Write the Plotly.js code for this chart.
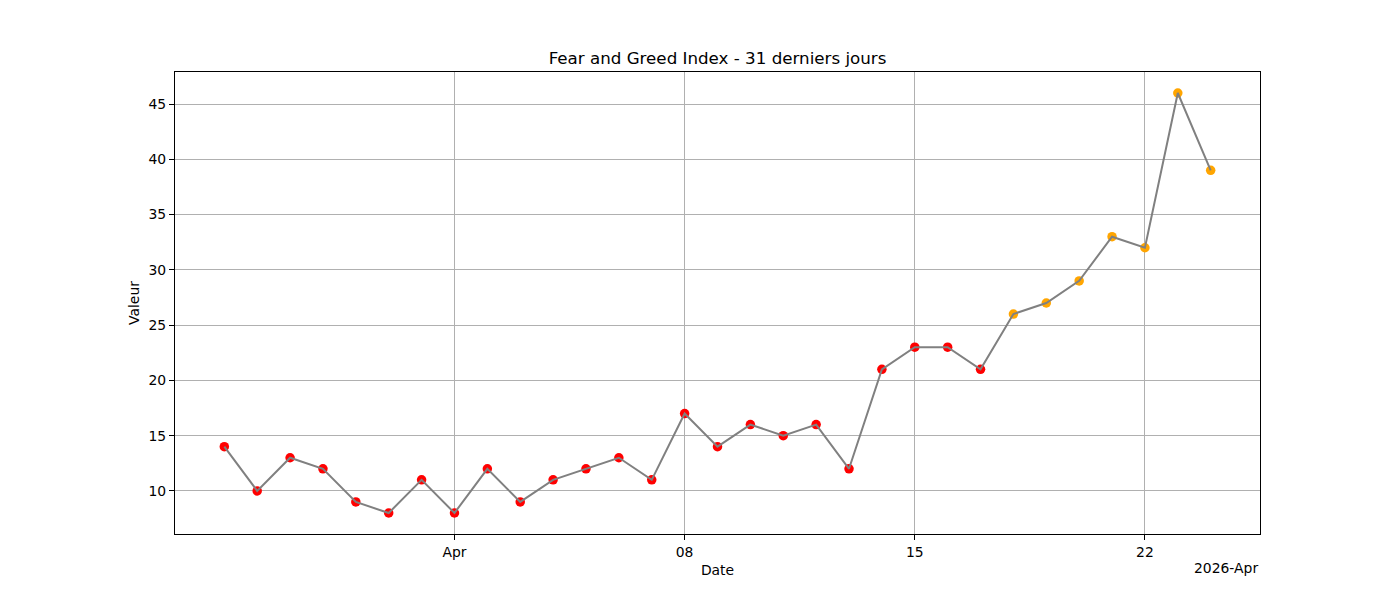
<!DOCTYPE html>
<html>
<head>
<meta charset="utf-8">
<script src="https://cdn.plot.ly/plotly-3.0.1.min.js"></script>
<style>
  body { margin: 0; background: white; }
  #chart { width: 1400px; height: 600px; }
</style>
</head>
<body>
<div id="chart"></div>
<script>
// 31 days of index values, Mar 25 -> Apr 24 2026
var dates = ['2026-03-25','2026-03-26','2026-03-27','2026-03-28','2026-03-29','2026-03-30','2026-03-31',
  '2026-04-01','2026-04-02','2026-04-03','2026-04-04','2026-04-05','2026-04-06','2026-04-07',
  '2026-04-08','2026-04-09','2026-04-10','2026-04-11','2026-04-12','2026-04-13','2026-04-14',
  '2026-04-15','2026-04-16','2026-04-17','2026-04-18','2026-04-19','2026-04-20','2026-04-21',
  '2026-04-22','2026-04-23','2026-04-24'];
var values = [14, 10, 13, 12, 9, 8, 11, 8, 12, 9, 11, 12, 13, 11, 17, 14, 16, 15, 16, 12, 21,
  23, 23, 21, 26, 27, 29, 33, 32, 46, 39];
var tickDates = ['2026-04-01', '2026-04-08', '2026-04-15', '2026-04-22'];
var tickLabels = ['Apr', '08', '15', '22'];

// extreme fear in red, fear in orange
var pointColors = values.map(function (v) { return v < 25 ? 'red' : 'orange'; });

var pts = {
  x: dates, y: values,
  type: 'scatter', mode: 'markers',
  marker: { color: pointColors, size: 9.5, line: { width: 0 } },
  hoverinfo: 'x+y'
};
var line = {
  x: dates, y: values,
  type: 'scatter', mode: 'lines',
  line: { color: 'gray', width: 2 },
  hoverinfo: 'skip'
};

var font = { family: 'DejaVu Sans, sans-serif', color: 'black', size: 13.9 };

var layout = {
  width: 1400, height: 600,
  margin: { l: 175, r: 140, t: 72, b: 66 },
  paper_bgcolor: 'white', plot_bgcolor: 'white',
  showlegend: false,
  font: font,
  title: { text: 'Fear and Greed Index - 31 derniers jours', font: { size: 16.7, color: 'black' },
           x: 0.5, xref: 'paper', y: 1, yref: 'paper', yanchor: 'bottom', pad: { b: 8 } },
  xaxis: {
    type: 'date',
    range: ['2026-03-23 12:00', '2026-04-25 12:00'],
    tickmode: 'array', tickvals: tickDates, ticktext: tickLabels,
    ticks: 'outside', ticklen: 5, tickwidth: 1, tickcolor: 'black',
    showgrid: true, gridcolor: '#b0b0b0', gridwidth: 1.1,
    showline: true, linecolor: 'black', linewidth: 1.1, mirror: true,
    zeroline: false,
    title: { text: 'Date', font: font, standoff: 6 }
  },
  yaxis: {
    range: [6.1, 47.9],
    tickmode: 'array', tickvals: [10, 15, 20, 25, 30, 35, 40, 45],
    ticks: 'outside', ticklen: 5, tickwidth: 1, tickcolor: 'black',
    showgrid: true, gridcolor: '#b0b0b0', gridwidth: 1.1,
    showline: true, linecolor: 'black', linewidth: 1.1, mirror: true,
    zeroline: false,
    title: { text: 'Valeur', font: font, standoff: 5 }
  },
  annotations: [{
    text: '2026-Apr', xref: 'paper', yref: 'paper', x: 1, y: 0,
    xanchor: 'right', yanchor: 'top', yshift: -24, showarrow: false, font: font
  }]
};

Plotly.newPlot('chart', [pts, line], layout, { displayModeBar: false, staticPlot: true });
</script>
</body>
</html>
